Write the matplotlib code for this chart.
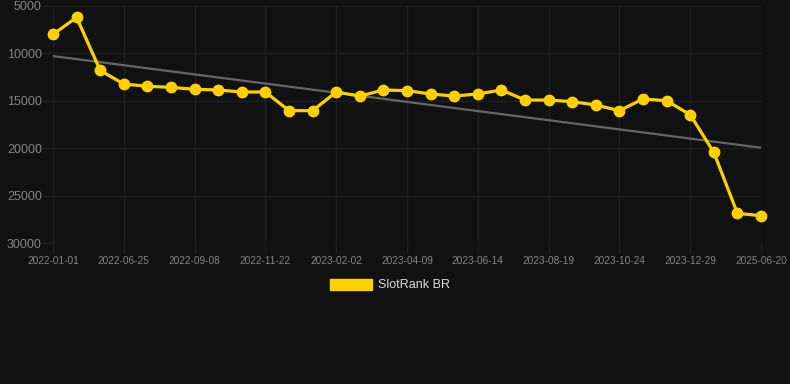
import matplotlib
matplotlib.use("Agg")
import matplotlib.pyplot as plt
from matplotlib.patches import Patch

plt.rcParams['font.family'] = ['Liberation Sans', 'DejaVu Sans']

dates = ["2022-01-01", "2022-03-28", "2022-05-10", "2022-06-25", "2022-07-20",
         "2022-08-14", "2022-09-08", "2022-10-03", "2022-10-28", "2022-11-22",
         "2022-12-15", "2023-01-09", "2023-02-02", "2023-02-24", "2023-03-18",
         "2023-04-09", "2023-05-01", "2023-05-23", "2023-06-14", "2023-07-06",
         "2023-07-28", "2023-08-19", "2023-09-10", "2023-10-02", "2023-10-24",
         "2023-11-15", "2023-12-07", "2023-12-29", "2024-06-01", "2025-01-01",
         "2025-06-20"]
ranks = [8000, 6200, 11800, 13230, 13470, 13580, 13790, 13860, 14070, 14070,
         16040, 16040, 14070, 14500, 13860, 13930, 14280, 14500, 14280, 13860,
         14920, 14920, 15090, 15440, 16040, 14810, 14990, 16470, 20440, 26870,
         27120]
trend_ends = [10280, 19950]
series_name = "SlotRank BR"
yticks = [5000, 10000, 15000, 20000, 25000, 30000]

BG = "#111111"
YEL = "#FFD000"
GRID = "#202020"
TICK = "#858585"

fig = plt.figure(figsize=(7.9, 3.84), dpi=100, facecolor=BG)
ax = fig.add_axes([53/790, 1-243/384, (761-53)/790, (243-6)/384], facecolor=BG)

x = list(range(len(dates)))
ax.plot([x[0], x[-1]], trend_ends, color="#666666", lw=1.6, zorder=2)
ax.plot(x, ranks, color=YEL, lw=2.3, marker='o', markersize=7.5,
        markerfacecolor=YEL, markeredgecolor=YEL, zorder=3, clip_on=False)

ax.set_xlim(x[0], x[-1])
ax.set_ylim(30000, 5000)
ax.set_yticks(yticks)
ax.set_yticklabels([str(v) for v in yticks])
tick_idx = list(range(0, len(dates), 3))
ax.set_xticks(tick_idx)
ax.set_xticklabels([dates[i] for i in tick_idx])

ax.grid(True, color=GRID, lw=1.0)
ax.set_axisbelow(True)
for s in ax.spines.values():
    s.set_visible(False)
ax.tick_params(axis='y', colors=GRID, labelcolor=TICK, labelsize=9, length=8, width=1.0, pad=0)
ax.tick_params(axis='x', colors=GRID, labelcolor=TICK, labelsize=7.3, length=8, width=1.0, pad=1.5)

handle = Patch(facecolor=YEL, edgecolor=YEL)
fig.legend([handle], [series_name], loc='center', bbox_to_anchor=(390/790, 1-285/384),
           frameon=False, handlelength=3.3, handleheight=1.0, fontsize=9,
           labelcolor="#dddddd", handletextpad=0.5)

fig.savefig("out.png", dpi=100, facecolor=BG)
